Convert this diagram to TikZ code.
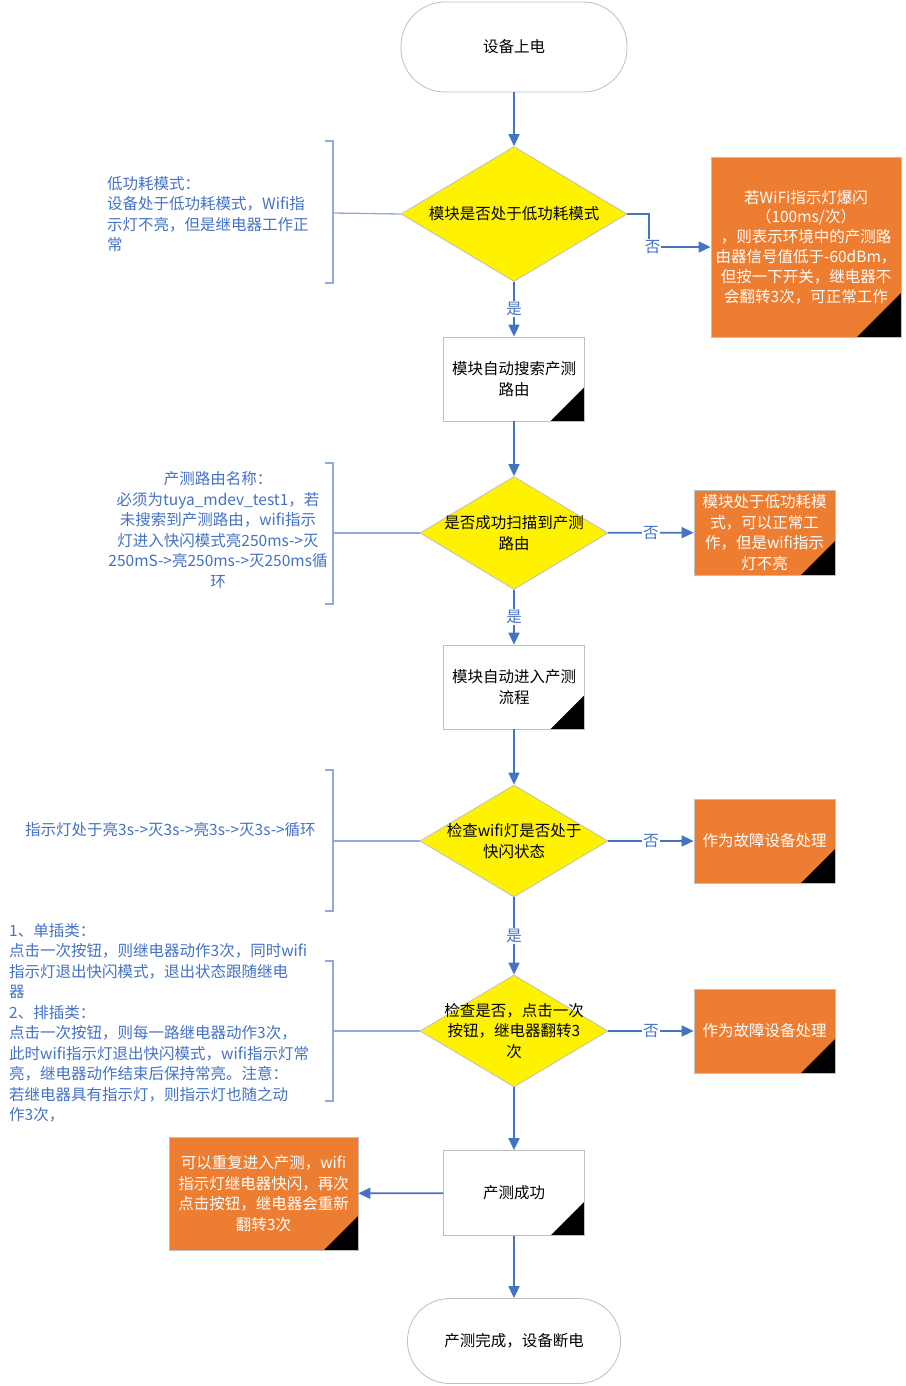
\documentclass[tikz,border=0pt]{standalone}
\usepackage{fontspec}
\setmainfont{Noto Sans CJK SC}
\usetikzlibrary{shapes.geometric,arrows.meta,calc}
\definecolor{arrowblue}{HTML}{4472C4}
\definecolor{annot}{HTML}{4472C4}
\definecolor{brk}{HTML}{8FAADC}
\definecolor{orng}{HTML}{ED7D31}
\definecolor{bord}{HTML}{BFBFBF}
\begin{document}
\begin{tikzpicture}[x=1pt,y=-1pt,
  font=\fontsize{15.5}{20.5}\selectfont,
  terminal/.style={draw=bord, line width=0.8pt, fill=white, rounded corners=44pt,
    minimum width=226pt, minimum height=90pt, inner sep=0pt, align=center},
  corner/.style={path picture={\fill[black] (path picture bounding box.south east) -- ++(-#1,0pt) -- ++(#1,#1) -- cycle;}},
  procbox/.style={draw=bord, line width=0.8pt, fill=white, minimum width=141pt,
    minimum height=84pt, inner sep=0pt, align=center, corner=34pt},
  orangebox/.style={draw=bord, line width=0.8pt, fill=orng, text=white,
    inner sep=0pt, align=center},
  decision/.style={diamond, draw=bord, line width=0.8pt, fill=yellow, inner sep=0pt},
  dtext/.style={align=center, inner sep=0pt},
  flow/.style={draw=arrowblue, line width=1.7pt, -{Triangle[length=12pt,width=11pt]}},
  yn/.style={fill=white, text=arrowblue, inner sep=1pt},
  bracketline/.style={draw=brk, line width=1.3pt},
  note/.style={text=annot, inner sep=0pt}
]
\fill[white] (0,0) rectangle (905,1386);
\useasboundingbox (0,0) rectangle (905,1386);

% main column
\node[terminal] (start) at (514,47) {设备上电};
\node[decision, minimum width=226pt, minimum height=135pt] (d1) at (514,214) {};
\node[dtext] at (d1) {模块是否处于低功耗模式};
\node[procbox] (p1) at (514,379) {模块自动搜索产测\\路由};
\node[decision, minimum width=188pt, minimum height=113pt] (d2) at (514,533) {};
\node[dtext] at (d2) {是否成功扫描到产测\\路由};
\node[procbox] (p2) at (514,687) {模块自动进入产测\\流程};
\node[decision, minimum width=188pt, minimum height=112pt] (d3) at (514,841) {};
\node[dtext] at (d3) {检查wifi灯是否处于\\快闪状态};
\node[decision, minimum width=188pt, minimum height=112pt] (d4) at (514,1031) {};
\node[dtext] at (d4) {检查是否，点击一次\\按钮，继电器翻转3\\次};
\node[procbox, minimum height=85pt] (p3) at (514,1193) {产测成功};
\node[terminal, minimum width=213pt, minimum height=85pt, rounded corners=42pt] (endt) at (514,1341) {产测完成，设备断电};

% orange boxes
\node[orangebox, minimum width=190pt, minimum height=180pt, corner=44pt,
  font=\fontsize{15.5}{19.8}\selectfont] (o1) at (806,247)
  {若WiFi指示灯爆闪\\（100ms/次）\\，则表示环境中的产测路\\由器信号值低于-60dBm，\\但按一下开关，继电器不\\会翻转3次，可正常工作};
\node[orangebox, minimum width=141pt, minimum height=85pt, corner=34pt] (o2) at (764.5,532.5)
  {模块处于低功耗模\\式，可以正常工\\作，但是wifi指示\\灯不亮};
\node[orangebox, minimum width=141pt, minimum height=84pt, corner=34pt] (o3) at (764.5,841) {作为故障设备处理};
\node[orangebox, minimum width=141pt, minimum height=84pt, corner=34pt] (o4) at (764.5,1031) {作为故障设备处理};
\node[orangebox, minimum width=189pt, minimum height=113pt, corner=34pt] (o5) at (263.5,1193.5)
  {可以重复进入产测，wifi\\指示灯继电器快闪，再次\\点击按钮，继电器会重新\\翻转3次};

% flow connectors
\coordinate (k1) at (649,214);
\draw[flow] (start) -- (d1);
\draw[flow] (d1.east) -- (k1) |- node[yn, pos=0.53] {否} (o1.west);
\draw[flow] (d1) -- node[yn] {是} (p1);
\draw[flow] (p1) -- (d2);
\draw[flow] (d2) -- node[yn] {否} (o2);
\draw[flow] (d2) -- node[yn] {是} (p2);
\draw[flow] (p2) -- (d3);
\draw[flow] (d3) -- node[yn] {否} (o3);
\draw[flow] (d3) -- node[yn] {是} (d4);
\draw[flow] (d4) -- node[yn] {否} (o4);
\draw[flow] (d4) -- (p3);
\draw[flow] (p3) -- (o5);
\draw[flow] (p3) -- (endt);

% annotation brackets
\coordinate (b1) at (333,213);
\coordinate (b2) at (333,533);
\coordinate (b3) at (333,841);
\coordinate (b4) at (333,1031);
\draw[bracketline] (325,141) -- (333,141) -- (333,283) -- (325,283);
\draw[bracketline] (b1) -- (d1.west);
\draw[bracketline] (325,463) -- (333,463) -- (333,604) -- (325,604);
\draw[bracketline] (b2) -- (d2.west);
\draw[bracketline] (325,770) -- (333,770) -- (333,911) -- (325,911);
\draw[bracketline] (b3) -- (d3.west);
\draw[bracketline] (325,961) -- (333,961) -- (333,1101) -- (325,1101);
\draw[bracketline] (b4) -- (d4.west);

% annotation texts
\node[note, anchor=west, align=left] (n1) at (107,214)
  {低功耗模式：\\设备处于低功耗模式，Wifi指\\示灯不亮，但是继电器工作正\\常};
\node[note, align=center] (n2) at (218,530)
  {产测路由名称：\\必须为tuya\_mdev\_test1，若\\未搜索到产测路由，wifi指示\\灯进入快闪模式亮250ms->灭\\250mS->亮250ms->灭250ms循\\环};
\node[note, anchor=west] (n3) at (25,830) {指示灯处于亮3s->灭3s->亮3s->灭3s->循环};
\node[note, anchor=west, align=left] (n4) at (9,1023)
  {1、单插类：\\点击一次按钮，则继电器动作3次，同时wifi\\指示灯退出快闪模式，退出状态跟随继电\\器\\2、排插类：\\点击一次按钮，则每一路继电器动作3次，\\此时wifi指示灯退出快闪模式，wifi指示灯常\\亮，继电器动作结束后保持常亮。注意：\\若继电器具有指示灯，则指示灯也随之动\\作3次，};
\end{tikzpicture}
\end{document}
